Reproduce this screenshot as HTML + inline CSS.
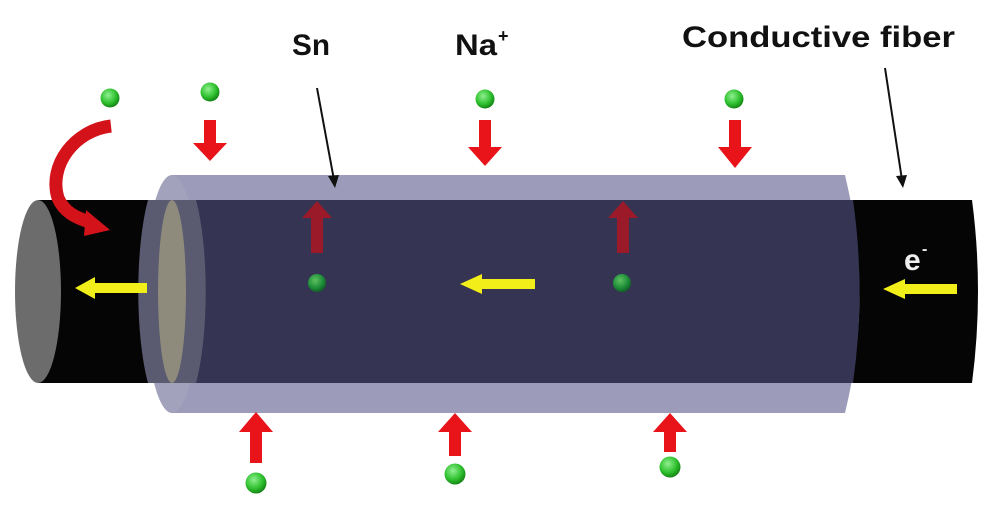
<!DOCTYPE html>
<html><head><meta charset="utf-8"><style>
html,body{margin:0;padding:0;background:#fff;}
svg{display:block;}
text{font-family:"Liberation Sans",sans-serif;font-weight:bold;fill:#111;}
</style></head><body>
<svg width="1000" height="519" viewBox="0 0 1000 519" xmlns="http://www.w3.org/2000/svg">
<defs>
<radialGradient id="g" cx="0.4" cy="0.35" r="0.7">
<stop offset="0" stop-color="#8ff08f"/><stop offset="0.6" stop-color="#2ec02e"/><stop offset="1" stop-color="#117a11"/></radialGradient>
<radialGradient id="g2" cx="0.4" cy="0.35" r="0.7">
<stop offset="0" stop-color="#5fc05f"/><stop offset="0.6" stop-color="#1f8f3a"/><stop offset="1" stop-color="#0e5a22"/></radialGradient>
</defs>
<!-- fiber -->
<path d="M38 200 H972 Q984 291 972 383 H38 Z" fill="#050505"/>
<ellipse cx="38" cy="291.5" rx="23" ry="91.5" fill="#6c6c6c"/>
<!-- tube -->
<path d="M172 175 H845 Q874 294 845 413 H172 Z" fill="#9c9cba"/>
<path d="M172 200 H853 Q866 291 853 383 H172 Z" fill="#353452"/>
<ellipse cx="172" cy="294" rx="27" ry="119" fill="#a2a2bc"/>
<path d="M148 200 A27 119 0 0 0 148 383 H196 A27 119 0 0 0 196 200 Z" fill="#5a5a70"/>
<ellipse cx="172" cy="291.5" rx="14" ry="91.5" fill="#8e8b7c"/>
<!-- yellow arrows -->
<g fill="#f2ee1a">
<path d="M147 284 H95 V278 L75 289 L95 300 V294 H147 Z" transform="translate(0,-1)"/>
<path d="M535 279 H482 V274 L460 284 L482 294 V289 H535 Z"/>
<path d="M957 284 H905 V279 L883 289 L905 299 V294 H957 Z"/>
</g>
<text x="904" y="270" font-size="30" style="fill:#eee">e</text>
<text x="922" y="254" font-size="16" style="fill:#eee">-</text>
<!-- inner arrows dark red -->
<g fill="#9a1a2a">
<path d="M311 253 V218 H302 L317 201 L332 218 H323 V253 Z"/>
<path d="M617 253 V218 H608 L623 201 L638 218 H629 V253 Z"/>
</g>
<circle cx="317" cy="283" r="9" fill="url(#g2)"/>
<circle cx="622" cy="283" r="9" fill="url(#g2)"/>
<!-- arrows -->
<g fill="#e8141a">
<path d="M204 120 V143 H193 L210 161 L227 143 H216 V120 Z"/>
<path d="M479 120 V147 H468 L485 166 L502 147 H491 V120 Z"/>
<path d="M729 120 V147 H718 L735 168 L752 147 H741 V120 Z"/>
<path d="M250 463 V432 H239 L256 412 L273 432 H262 V463 Z"/>
<path d="M449 456 V432 H438 L455 413 L472 432 H461 V456 Z"/>
<path d="M664 452 V432 H653 L670 413 L687 432 H676 V452 Z"/>
</g>
<path d="M111 126 C75 130 48 165 58 198 C64 212 76 218 90 222" stroke="#d3121a" stroke-width="13" fill="none"/>
<path d="M86 210 L110 230 L84 236 Z" fill="#d3121a"/>
<g>
<circle cx="110" cy="98" r="9.5" fill="url(#g)"/>
<circle cx="210" cy="92" r="9.5" fill="url(#g)"/>
<circle cx="485" cy="99" r="9.5" fill="url(#g)"/>
<circle cx="734" cy="99" r="9.5" fill="url(#g)"/>
<circle cx="256" cy="483" r="10.5" fill="url(#g)"/>
<circle cx="455" cy="474" r="10.5" fill="url(#g)"/>
<circle cx="670" cy="467" r="10.5" fill="url(#g)"/>
</g>
<!-- labels -->
<text x="292" y="55" font-size="30" textLength="38" lengthAdjust="spacingAndGlyphs">Sn</text>
<text x="455" y="55" font-size="30" textLength="42" lengthAdjust="spacingAndGlyphs">Na</text>
<text x="498" y="42" font-size="18">+</text>
<text x="682" y="47" font-size="30" textLength="273" lengthAdjust="spacingAndGlyphs">Conductive fiber</text>
<g stroke="#111" stroke-width="2" fill="none">
<line x1="317" y1="88" x2="334" y2="180"/>
<line x1="885" y1="68" x2="902" y2="180"/>
</g>
<path d="M328 176 L335 188 L339 175 Z" fill="#111"/>
<path d="M896 176 L903 188 L907 175 Z" fill="#111"/>
</svg>
</body></html>
